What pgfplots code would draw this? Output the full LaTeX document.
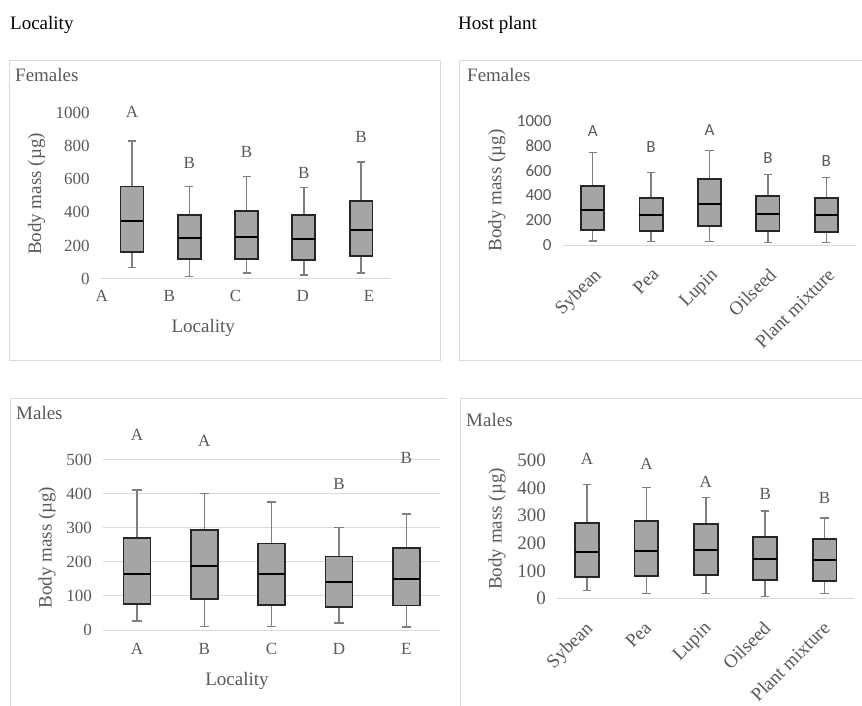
\documentclass[border=0pt]{standalone}
\usepackage{fontspec}
\setmainfont{Liberation Serif}
\newfontfamily\carlito{Carlito}
\usepackage{pgfplots}
\pgfplotsset{compat=1.18}
\usepgfplotslibrary{statistics}
\definecolor{txtc}{HTML}{595959}
\definecolor{boxfillc}{HTML}{A5A5A5}
\definecolor{boxlinec}{HTML}{262626}
\definecolor{whiskc}{HTML}{7F7F7F}
\definecolor{framec}{HTML}{D9D9D9}
\newcommand{\fsz}[1]{\fontsize{#1}{#1}\selectfont}
\newcommand{\bp}[6]{\addplot[draw=boxlinec, fill=boxfillc, line width=1.8pt,
  boxplot prepared={draw position=#1, lower whisker=#2, lower quartile=#3,
  median=#4, upper quartile=#5, upper whisker=#6}] coordinates {};}
\pgfplotsset{
  common/.style={scale only axis, anchor=south west, clip=false,
    axis line style={draw=none},
    tick style={draw=none},
    extra y ticks={0}, extra y tick labels={},
    extra y tick style={ymajorgrids=true, grid style={draw=framec, line width=1pt}},
    tick label style={text=txtc},
    label style={text=txtc, font=\fsz{19}},
    /pgf/number format/assume math mode=true,
    /pgf/number format/1000 sep={},
    boxplot/draw direction=y,
    boxplot/box extend=0.4, boxplot/whisker extend=0.14,
    boxplot/every box/.style={draw=boxlinec, fill=boxfillc, line width=1.8pt},
    boxplot/every whisker/.style={draw=whiskc, line width=1.5pt},
    boxplot/every median/.style={draw=black, line width=2pt},
  },
}
\begin{document}
\begin{tikzpicture}
\path[use as bounding box] (0,0) rectangle (862pt,-705pt);
% titles
\node[anchor=west, font=\fsz{19}, inner sep=0] at (10pt,-25pt) {Locality};
\node[anchor=west, font=\fsz{19}, inner sep=0] at (458pt,-25pt) {Host plant};
% frames
\draw[framec, line width=1pt] (9pt,-60pt) rectangle (440pt,-360pt);
\draw[framec, line width=1pt] (870pt,-60pt) -- (459pt,-60pt) -- (459pt,-360pt) -- (870pt,-360pt);
\draw[framec, line width=1pt] (447pt,-398pt) -- (10pt,-398pt) -- (10pt,-710pt);
\draw[framec, line width=1pt] (870pt,-398pt) -- (460pt,-398pt) -- (460pt,-710pt);
\node[anchor=west, font=\fsz{19}, text=txtc, inner sep=0] at (15pt,-75pt) {Females};
\node[anchor=west, font=\fsz{19}, text=txtc, inner sep=0] at (467pt,-75pt) {Females};
\node[anchor=west, font=\fsz{19}, text=txtc, inner sep=0] at (16pt,-413pt) {Males};
\node[anchor=west, font=\fsz{19}, text=txtc, inner sep=0] at (466pt,-420pt) {Males};

% Panel 1: Females by locality
\begin{axis}[common, at={(101.1pt,-278.7pt)}, width=290.3pt, height=166pt,
  xmin=0.46, xmax=5.53, ymin=0, ymax=1000, ytick={0,200,...,1000},
  xtick={0.47,1.65,2.81,3.98,5.14}, xticklabels={A,B,C,D,E},
  tick label style={font=\fsz{17}},
  xticklabel style={yshift=-8pt},
  yticklabel style={xshift=-8pt},
  xlabel={Locality}, xlabel style={at={(axis description cs:0.352,-0.295)}, anchor=center},
  ylabel={Body mass (µg)}, ylabel style={at={(axis description cs:-0.222,0.51)}, anchor=center}]
\bp{1}{68}{159}{347}{556}{831}
\bp{2}{14}{118}{245}{386}{556}
\bp{3}{34}{120}{251}{406}{616}
\bp{4}{22}{112}{239}{382}{548}
\bp{5}{34}{139}{291}{468}{703}
\node[font=\fsz{17}, text=txtc] at (axis cs:1,1006) {A};
\node[font=\fsz{17}, text=txtc] at (axis cs:2,695) {B};
\node[font=\fsz{17}, text=txtc] at (axis cs:3,765) {B};
\node[font=\fsz{17}, text=txtc] at (axis cs:4,639) {B};
\node[font=\fsz{17}, text=txtc] at (axis cs:5,851) {B};
\end{axis}

% Panel 2: Females by host plant
\begin{axis}[common, at={(562.9pt,-245pt)}, width=293.2pt, height=124pt,
  xmin=0.49, xmax=5.51, ymin=0, ymax=1000, ytick={0,200,...,1000},
  xtick={1,2,3,4,5}, xticklabels={Sybean,Pea,Lupin,Oilseed,Plant mixture},
  yticklabel style={font=\carlito\fsz{17}, xshift=-8pt},
  xticklabel style={font=\fsz{19}, rotate=45, anchor=north east, yshift=-12pt, xshift=-12pt},
  ylabel={Body mass (µg)}, ylabel style={at={(axis description cs:-0.225,0.44)}, anchor=center}]
\bp{1}{32}{124}{280}{473}{747}
\bp{2}{27}{113}{239}{376}{586}
\bp{3}{27}{156}{333}{532}{763}
\bp{4}{19}{113}{253}{398}{567}
\bp{5}{22}{108}{239}{379}{546}
\node[font=\carlito\fsz{17}, text=txtc] at (axis cs:1,919) {A};
\node[font=\carlito\fsz{17}, text=txtc] at (axis cs:2,793) {B};
\node[font=\carlito\fsz{17}, text=txtc] at (axis cs:3,927) {A};
\node[font=\carlito\fsz{17}, text=txtc] at (axis cs:4,699) {B};
\node[font=\carlito\fsz{17}, text=txtc] at (axis cs:5,677) {B};
\end{axis}

% Panel 3: Males by locality
\begin{axis}[common, at={(103.3pt,-630pt)}, width=336.7pt, height=170.3pt,
  xmin=0.5, xmax=5.5, ymin=0, ymax=500, ytick={0,100,...,500},
  ymajorgrids, grid style={draw=framec, line width=1pt},
  xtick={1,2,3,4,5}, xticklabels={A,B,C,D,E},
  tick label style={font=\fsz{17}},
  xticklabel style={yshift=-10pt},
  yticklabel style={xshift=-8pt},
  xlabel={Locality}, xlabel style={at={(axis description cs:0.397,-0.30)}, anchor=center},
  ylabel={Body mass (µg)}, ylabel style={at={(axis description cs:-0.167,0.484)}, anchor=center}]
\bp{1}{26}{76}{165}{271}{411}
\bp{2}{11}{91}{189}{293}{401}
\bp{3}{11}{74}{163}{254}{376}
\bp{4}{21}{68}{142}{216}{301}
\bp{5}{9}{72}{151}{240}{341}
\node[font=\fsz{17}, text=txtc] at (axis cs:1,574) {A};
\node[font=\fsz{17}, text=txtc] at (axis cs:2,556) {A};
\node[font=\fsz{17}, text=txtc] at (axis cs:4,428) {B};
\node[font=\fsz{17}, text=txtc] at (axis cs:5,504) {B};
\end{axis}

% Panel 4: Males by host plant
\begin{axis}[common, at={(557.3pt,-598.3pt)}, width=297pt, height=137.6pt,
  xmin=0.5, xmax=5.5, ymin=0, ymax=500, ytick={0,100,...,500},
  xtick={1,2,3,4,5}, xticklabels={Sybean,Pea,Lupin,Oilseed,Plant mixture},
  yticklabel style={font=\fsz{19}, xshift=-8pt},
  xticklabel style={font=\fsz{19}, rotate=45, anchor=north east, yshift=-10pt, xshift=-14pt},
  ylabel={Body mass (µg)}, ylabel style={at={(axis description cs:-0.203,0.504)}, anchor=center}]
\bp{1}{29}{77}{168}{274}{414}
\bp{2}{17}{81}{173}{281}{403}
\bp{3}{18}{86}{177}{269}{367}
\bp{4}{7}{67}{142}{223}{317}
\bp{5}{18}{64}{139}{215}{291}
\node[font=\fsz{17}, text=txtc] at (axis cs:1,505) {A};
\node[font=\fsz{17}, text=txtc] at (axis cs:2,490) {A};
\node[font=\fsz{17}, text=txtc] at (axis cs:3,424) {A};
\node[font=\fsz{17}, text=txtc] at (axis cs:4,381) {B};
\node[font=\fsz{17}, text=txtc] at (axis cs:5,366) {B};
\end{axis}
\end{tikzpicture}
\end{document}
